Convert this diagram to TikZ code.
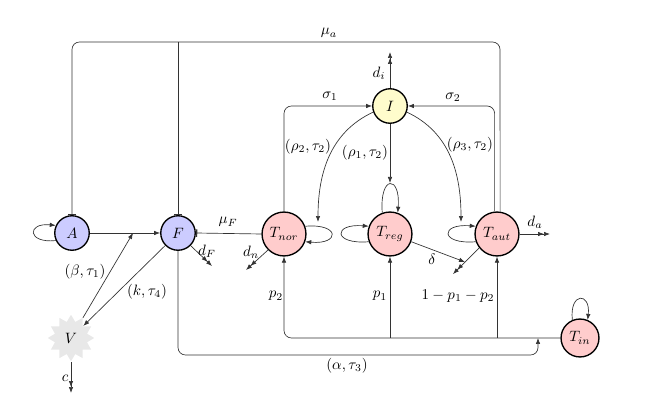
\documentclass[tikz,border=0pt]{standalone}
\usetikzlibrary{arrows.meta,shapes.geometric,calc}
\begin{document}
\begin{tikzpicture}[x=0.667pt,y=0.667pt,
  >={Latex[length=4pt,width=3pt]},
  conn/.style={draw=black!80,line width=0.45pt},
  bar/.style={-{Bar[width=5pt,line width=0.9pt]}},
  dbl/.style={->>},
  smallnode/.style={circle,draw=black,line width=0.9pt,minimum size=23pt,inner sep=0pt},
  bignode/.style={circle,draw=black,line width=0.9pt,minimum size=29.3pt,inner sep=0pt},
  bluenode/.style={smallnode,fill=blue!20},
  yelnode/.style={smallnode,fill=yellow!20},
  tnode/.style={bignode,fill=red!20},
  lbl/.style={inner sep=1pt}
]
\useasboundingbox (0,0) rectangle (656,401);

% nodes
\node[bluenode] (A) at (72,168) {$A$};
\node[bluenode] (F) at (178,168) {$F$};
\node[tnode] (Tnor) at (284,167) {$T_{nor}$};
\node[tnode] (Treg) at (390,167) {$T_{reg}$};
\node[tnode] (Taut) at (497,167) {$T_{aut}$};
\node[yelnode] (I) at (390,295) {$I$};
\node[tnode,minimum size=25.3pt] (Tin) at (580,63) {$T_{in}$};
\node[star,star points=12,star point ratio=1.4,fill=black!9,minimum size=31pt,inner sep=0pt] (V) at (71,63) {$V$};

% coordinates
\coordinate (muaR) at (500,359);
\coordinate (muaL) at (72,359);
\coordinate (muaF) at (178,359);
\coordinate (diEnd) at (390,349);
\coordinate (rhoOne) at (390,218);
\coordinate (rhoTwo) at (318,179);
\coordinate (rhoThree) at (461,179);
\coordinate (bt) at (133,168);
\coordinate (cEnd) at (71,8);
\coordinate (dFEnd) at (212,135);
\coordinate (dnEnd) at (246,131);
\coordinate (deltaEnd) at (465,139);
\coordinate (autEnd) at (453,127);
\coordinate (daEnd) at (550,167);
\coordinate (pOne) at (390,63);
\coordinate (pThree) at (497,63);
\coordinate (alC1) at (178,46);
\coordinate (alC2) at (538,46);
\coordinate (alEnd) at (538,63);

% mu_a feedback
\draw[conn,bar,rounded corners=5] (Taut.82) -- (muaR) -- (muaL) -- (A.north);
\draw[conn,bar] (muaF) -- (F.north);

% sigma
\draw[conn,->,rounded corners=5] (Tnor.north) |- (I.west);
\draw[conn,->,rounded corners=5] (Taut.96) |- (I.east);

% d_i
\draw[conn,dbl] (I.north) -- (diEnd);

% rho
\draw[conn,->] (I.south) -- (rhoOne);
\draw[conn,->] (I.200) to[out=205,in=90] (rhoTwo);
\draw[conn,->] (I.340) to[out=335,in=90] (rhoThree);

% self loops
\draw[conn,->] (A.205) .. controls +(-29,-3) and +(-29,3) .. (A.155);
\draw[conn,->] (Tnor.20) .. controls +(35,3) and +(35,-3) .. (Tnor.-20);
\draw[conn,->] (Treg.200) .. controls +(-36,-3) and +(-36,3) .. (Treg.160);
\draw[conn,->] (Treg.110) .. controls +(-3,38) and +(3,38) .. (Treg.70);
\draw[conn,->] (Taut.200) .. controls +(-36,-3) and +(-36,3) .. (Taut.160);
\draw[conn,->] (Tin.113) .. controls +(-3,28) and +(3,28) .. (Tin.67);

% A-F, V
\draw[conn,->] (A.east) -- (F.west);
\draw[conn,->] (V) -- (bt);
\draw[conn,->] (F) -- (V);
\draw[conn,dbl] (V.south) -- (cEnd);

% deaths
\draw[conn,dbl] (F.315) -- (dFEnd);
\draw[conn,dbl] (Tnor.225) -- (dnEnd);
\draw[conn,->] (Treg.-20) -- (deltaEnd);
\draw[conn,dbl] (Taut.218) -- (autEnd);
\draw[conn,dbl] (Taut.east) -- (daEnd);

% mu_F
\draw[conn,bar] (Tnor.west) -- (F.east);

% T_in differentiation
\draw[conn,->,rounded corners=5] (Tin.west) -| (Tnor.south);
\draw[conn,->] (pOne) -- (Treg.south);
\draw[conn,->] (pThree) -- (Taut.south);

% alpha
\draw[conn,->,rounded corners=5] (F.south) -- (alC1) -- (alC2) -- (alEnd);

% labels
\node[lbl] (lmua) at (329,368) {$\mu_a$};
\node[lbl] (lsig1) at (330,305) {$\sigma_1$};
\node[lbl] (lsig2) at (453,304) {$\sigma_2$};
\node[lbl] (ldi) at (379,328) {$d_i$};
\node[lbl] (lrho1) at (365,248) {$(\rho_1,\tau_2)$};
\node[lbl] (lrho2) at (308,254) {$(\rho_2,\tau_2)$};
\node[lbl] (lrho3) at (470,256) {$(\rho_3,\tau_2)$};
\node[lbl] (lmuF) at (228,179) {$\mu_F$};
\node[lbl] (ldF) at (207,150) {$d_F$};
\node[lbl] (ldn) at (251,149) {$d_n$};
\node[lbl] (ldelta) at (432,142) {$\delta$};
\node[lbl] (lda) at (535,179) {$d_a$};
\node[lbl] (lbeta) at (85,129) {$(\beta,\tau_1)$};
\node[lbl] (lk) at (147,109) {$(k,\tau_4)$};
\node[lbl] (lc) at (65,23) {$c$};
\node[lbl] (lp2) at (276,105) {$p_2$};
\node[lbl] (lp1) at (380,105) {$p_1$};
\node[lbl] (lp3) at (458,105) {$1-p_1-p_2$};
\node[lbl] (lal) at (347,35) {$(\alpha,\tau_3)$};
\end{tikzpicture}
\end{document}
